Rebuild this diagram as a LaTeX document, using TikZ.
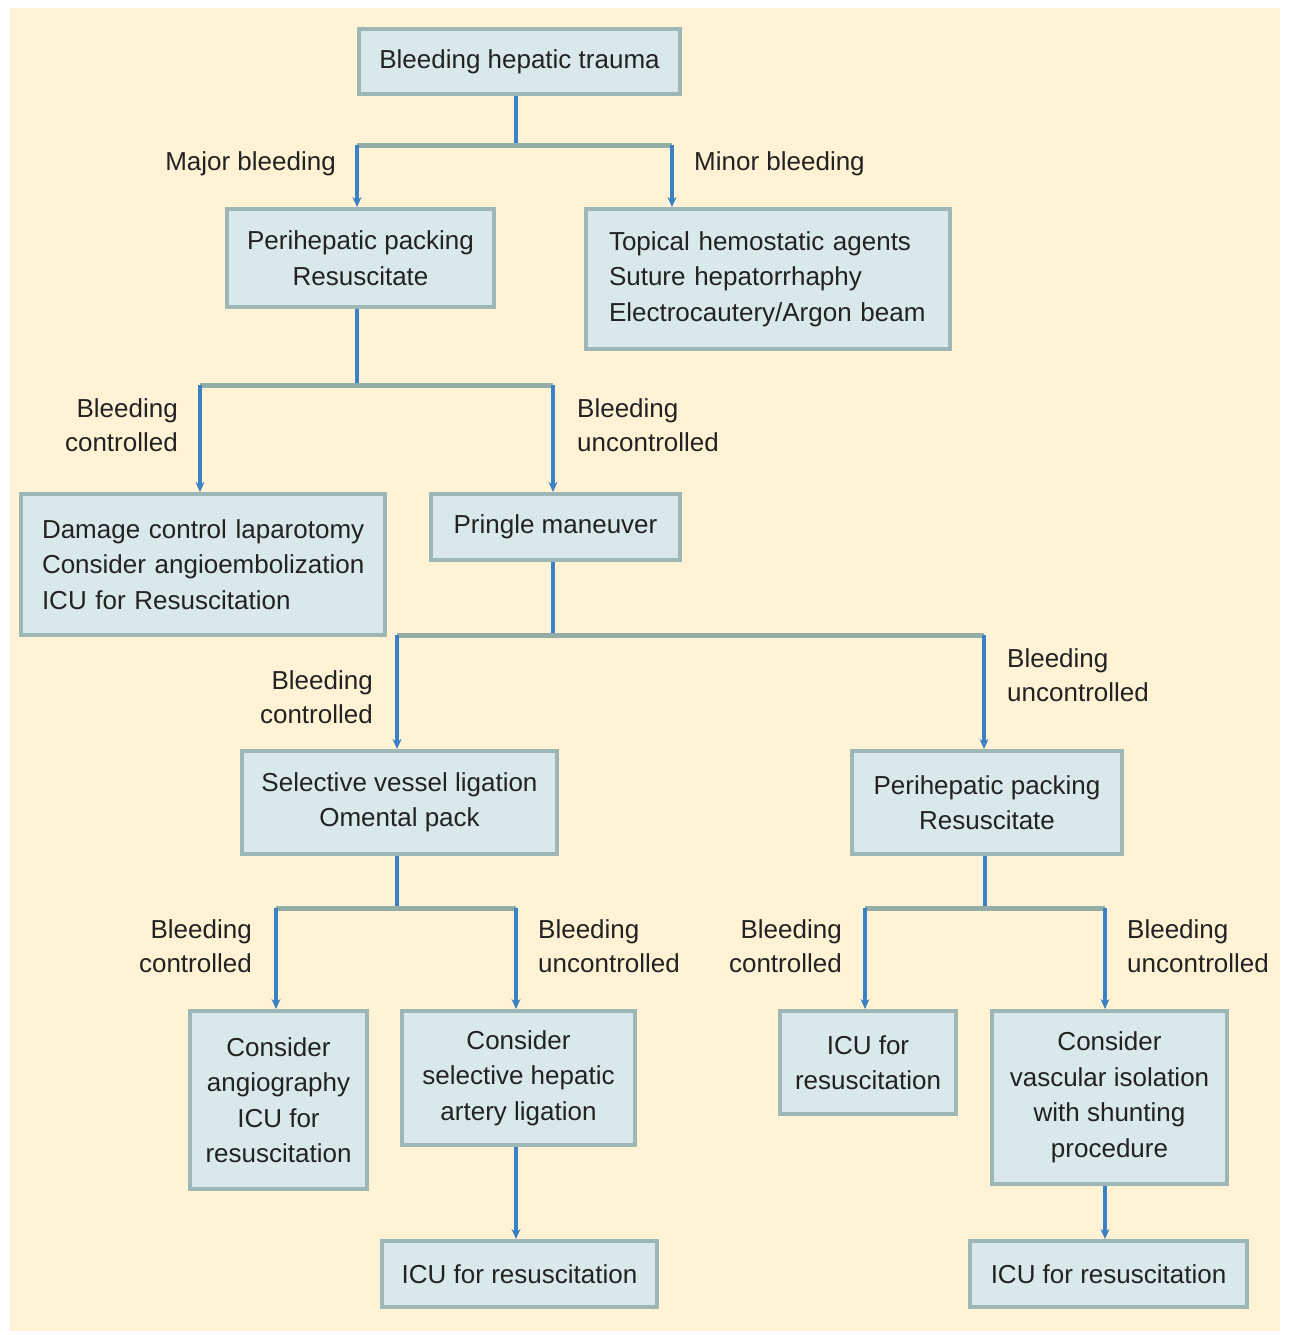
\documentclass[tikz,border=0pt]{standalone}
\usepackage{fontspec}
\setmainfont{Liberation Sans}
\usetikzlibrary{arrows.meta}
\definecolor{cream}{HTML}{FFF2D5}
\definecolor{boxfill}{HTML}{D9E9EB}
\definecolor{boxedge}{HTML}{9DB7B7}
\definecolor{barcol}{HTML}{93ACA6}
\definecolor{arrblue}{HTML}{3B7FC4}
\definecolor{txt}{HTML}{222222}
\begin{document}
\begin{tikzpicture}[x=1pt,y=-1pt,
  every node/.style={font=\fontsize{26}{35.5}\selectfont, text=txt},
  bx/.style={draw=boxedge, fill=boxfill, line width=4pt, inner sep=0pt, align=center, anchor=north west},
  lbl/.style={inner sep=0pt, font=\fontsize{26}{34}\selectfont},
  vl/.style={draw=arrblue, line width=4pt},
  hb/.style={draw=barcol, line width=5pt},
  ar/.style={draw=arrblue, line width=3.5pt, -{Stealth[length=10pt,width=9pt]}}
]
\useasboundingbox (0,0) rectangle (1288,1335);
\fill[white] (0,0) rectangle (1288,1335);
\fill[cream] (10,8) rectangle (1280,1331);

% boxes (north west anchor at top-left)
\node[bx, minimum width=321pt, minimum height=65pt] (top) at (357,27) {Bleeding hepatic trauma};
\node[bx, minimum width=267pt, minimum height=98pt] (pack1) at (225,207) {Perihepatic packing\\Resuscitate};
\node[bx, minimum width=364pt, minimum height=140pt, text width=364pt, align=left] (minor) at (584,207) {\hspace*{23pt}Topical hemostatic agents\\\hspace*{23pt}Suture hepatorrhaphy\\\hspace*{23pt}Electrocautery/Argon beam};
\node[bx, minimum width=364pt, minimum height=141pt, text width=364pt, align=left] (dcl) at (19,492) {\hspace*{21pt}Damage control laparotomy\\\hspace*{21pt}Consider angioembolization\\\hspace*{21pt}ICU for Resuscitation};
\node[bx, minimum width=249pt, minimum height=66pt] (pringle) at (429,492) {Pringle maneuver};
\node[bx, minimum width=315pt, minimum height=103pt] (svl) at (240,749) {Selective vessel ligation\\Omental pack};
\node[bx, minimum width=270pt, minimum height=103pt] (pack2) at (850,749) {Perihepatic packing\\Resuscitate};
\node[bx, minimum width=177pt, minimum height=178pt] (angio) at (188,1009) {Consider\\angiography\\ICU for\\resuscitation};
\node[bx, minimum width=233pt, minimum height=134pt] (hal) at (400,1009) {Consider\\selective hepatic\\artery ligation};
\node[bx, minimum width=275pt, minimum height=66pt] (icu1) at (380,1239) {ICU for resuscitation};
\node[bx, minimum width=176pt, minimum height=103pt] (icu2) at (778,1009) {ICU for\\resuscitation};
\node[bx, minimum width=235pt, minimum height=173pt] (vis) at (990,1009) {Consider\\vascular isolation\\with shunting\\procedure};
\node[bx, minimum width=277pt, minimum height=66pt] (icu3) at (968,1239) {ICU for resuscitation};

% junction coordinates
\coordinate (j1) at (516,145);
\coordinate (j1l) at (357,145);
\coordinate (j1r) at (672,145);
\coordinate (j2) at (357,385);
\coordinate (j2l) at (200,385);
\coordinate (j2r) at (553,385);
\coordinate (j3) at (553,635);
\coordinate (j3l) at (397,635);
\coordinate (j3r) at (984,635);
\coordinate (j4) at (397,908);
\coordinate (j4l) at (276,908);
\coordinate (j4r) at (516,908);
\coordinate (j5) at (985,908);
\coordinate (j5l) at (865,908);
\coordinate (j5r) at (1105,908);

% level 1
\draw[vl] (j1 |- top.south) -- (j1);
\draw[hb] (j1l) -- (j1r);
\draw[ar] (j1l) -- (j1l |- pack1.north);
\draw[ar] (j1r) -- (j1r |- minor.north);
% level 2
\draw[vl] (j2 |- pack1.south) -- (j2);
\draw[hb] (j2l) -- (j2r);
\draw[ar] (j2l) -- (j2l |- dcl.north);
\draw[ar] (j2r) -- (j2r |- pringle.north);
% level 3
\draw[vl] (j3 |- pringle.south) -- (j3);
\draw[hb] (j3l) -- (j3r);
\draw[ar] (j3l) -- (j3l |- svl.north);
\draw[ar] (j3r) -- (j3r |- pack2.north);
% level 4 left
\draw[vl] (j4 |- svl.south) -- (j4);
\draw[hb] (j4l) -- (j4r);
\draw[ar] (j4l) -- (j4l |- angio.north);
\draw[ar] (j4r) -- (j4r |- hal.north);
% level 4 right
\draw[vl] (j5 |- pack2.south) -- (j5);
\draw[hb] (j5l) -- (j5r);
\draw[ar] (j5l) -- (j5l |- icu2.north);
\draw[ar] (j5r) -- (j5r |- vis.north);
% final
\draw[ar] (j4r |- hal.south) -- (j4r |- icu1.north);
\draw[ar] (j5r |- vis.south) -- (j5r |- icu3.north);

% labels
\node[lbl, anchor=east] (lmaj) at (336,164) {Major bleeding};
\node[lbl, anchor=west] (lmin) at (694,164) {Minor bleeding};
\node[lbl, anchor=east, align=right] (l2a) at (178,425) {Bleeding\\controlled};
\node[lbl, anchor=west, align=left] (l2b) at (577,425) {Bleeding\\uncontrolled};
\node[lbl, anchor=east, align=right] (l3a) at (373,697) {Bleeding\\controlled};
\node[lbl, anchor=west, align=left] (l3b) at (1007,675) {Bleeding\\uncontrolled};
\node[lbl, anchor=east, align=right] (l4a) at (252,946) {Bleeding\\controlled};
\node[lbl, anchor=west, align=left] (l4b) at (538,946) {Bleeding\\uncontrolled};
\node[lbl, anchor=east, align=right] (l5a) at (842,946) {Bleeding\\controlled};
\node[lbl, anchor=west, align=left] (l5b) at (1127,946) {Bleeding\\uncontrolled};
\end{tikzpicture}
\end{document}
